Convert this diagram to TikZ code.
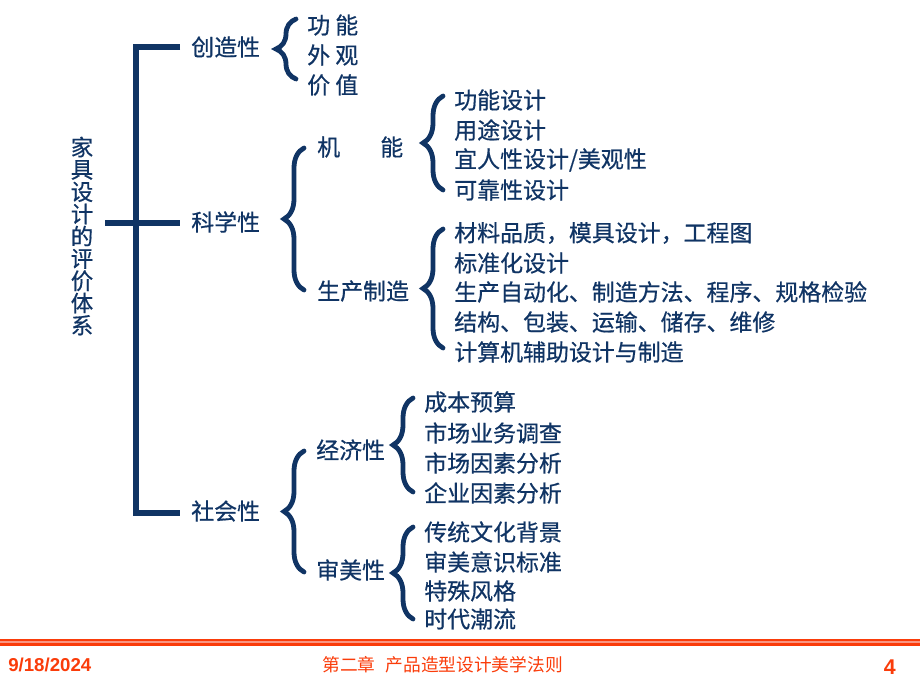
\documentclass[tikz,border=0pt]{standalone}
\usepackage{fontspec}
\setmainfont{Liberation Sans}
\newfontfamily\cjk[FakeBold=0.6]{Noto Sans CJK SC}
\newfontfamily\cjkfoot{Noto Sans CJK SC}
\usetikzlibrary{decorations.pathreplacing,calc}
\definecolor{navy}{RGB}{16,52,100}
\definecolor{foot}{RGB}{250,60,10}
\definecolor{footlight}{RGB}{250,150,130}
\begin{document}
\begin{tikzpicture}[x=0.75pt,y=-0.75pt,
  txt/.style={font=\cjk\fontsize{17.2}{20}\selectfont, text=navy, anchor=west, inner sep=0pt},
  bar/.style={draw=navy, line width=3.8pt},
  brc/.style={draw=navy, line width=3.6pt, line cap=round, decorate,
     decoration={brace, amplitude=15pt, aspect=0.5}},
  ftxt/.style={text=foot, inner sep=0pt}]
\useasboundingbox (0,0) rectangle (920,690);

% title
\node[font=\cjk\fontsize{16.8}{16.7}\selectfont, text=navy, align=center, inner sep=0pt]
  (title) at (82,236) {家\\具\\设\\计\\的\\评\\价\\体\\系};

% first level
\node[txt] (cz) at (191,47) {创造性};
\node[txt] (kx) at (191,222) {科学性};
\node[txt] (sh) at (191,511) {社会性};

\coordinate (J1) at (136,47);
\coordinate (J3) at (136,513);
\coordinate (T0) at (105,223);
\draw[bar] ($(cz.west)+(-11,0)$) -- (J1) -- (J3) -- ($(sh.west)+(-11,2)$);
\draw[bar] (T0) -- ($(kx.west)+(-11,1)$);

% 创造性 branch
\node[txt] (a1) at (307,25) {功 能};
\node[txt] (a2) at (307,55) {外 观};
\node[txt] (a3) at (307,85) {价 值};
\coordinate (b1s) at (296,79);
\coordinate (b1e) at (296,19);
\draw[brc] (b1s) -- (b1e);

% 科学性 branch
\node[txt] (jn) at (317,147) {机\hspace{1.75em}能};
\node[txt] (sc) at (317,291) {生产制造};
\coordinate (b2s) at (304,290);
\coordinate (b2e) at (304,148);
\draw[brc] (b2s) -- (b2e);

\node[txt] (c1) at (454,100) {功能设计};
\node[txt] (c2) at (454,130) {用途设计};
\node[txt] (c3) at (454,160) {宜人性设计/美观性};
\node[txt] (c4) at (454,190) {可靠性设计};
\coordinate (b3s) at (443,190);
\coordinate (b3e) at (443,96);
\draw[brc] (b3s) -- (b3e);

\node[txt] (d1) at (454,233) {材料品质，模具设计，工程图};
\node[txt] (d2) at (454,263) {标准化设计};
\node[txt] (d3) at (454,292) {生产自动化、制造方法、程序、规格检验};
\node[txt] (d4) at (454,322) {结构、包装、运输、储存、维修};
\node[txt] (d5) at (454,352) {计算机辅助设计与制造};
\coordinate (b4s) at (443,348);
\coordinate (b4e) at (443,229);
\draw[brc] (b4s) -- (b4e);

% 社会性 branch
\node[txt] (jj) at (316,450) {经济性};
\node[txt] (sm) at (316,570) {审美性};
\coordinate (b5s) at (304,572);
\coordinate (b5e) at (304,451);
\draw[brc] (b5s) -- (b5e);

\node[txt] (e1) at (424,402) {成本预算};
\node[txt] (e2) at (424,433) {市场业务调查};
\node[txt] (e3) at (424,463) {市场因素分析};
\node[txt] (e4) at (424,493) {企业因素分析};
\coordinate (b6s) at (413,492);
\coordinate (b6e) at (413,398);
\draw[brc] (b6s) -- (b6e);

\node[txt] (f1) at (424,532) {传统文化背景};
\node[txt] (f2) at (424,562) {审美意识标准};
\node[txt] (f3) at (424,591) {特殊风格};
\node[txt] (f4) at (424,619) {时代潮流};
\coordinate (b7s) at (413,619);
\coordinate (b7e) at (413,527);
\draw[brc] (b7s) -- (b7e);

% footer
\fill[foot] (0,638.5) rectangle (920,645.5);
\fill[footlight] (0,640.5) rectangle (920,642.5);
\node[ftxt, anchor=west, font=\bfseries\fontsize{14}{16}\selectfont] (date) at (8,665) {9/18/2024};
\node[ftxt, anchor=west, font=\cjkfoot\fontsize{13.3}{15}\selectfont] (chap) at (322,665) {第二章\hspace{0.57em}产品造型设计美学法则};
\node[ftxt, anchor=east, font=\bfseries\fontsize{16}{18}\selectfont] (pg) at (896,667) {4};
\end{tikzpicture}
\end{document}
